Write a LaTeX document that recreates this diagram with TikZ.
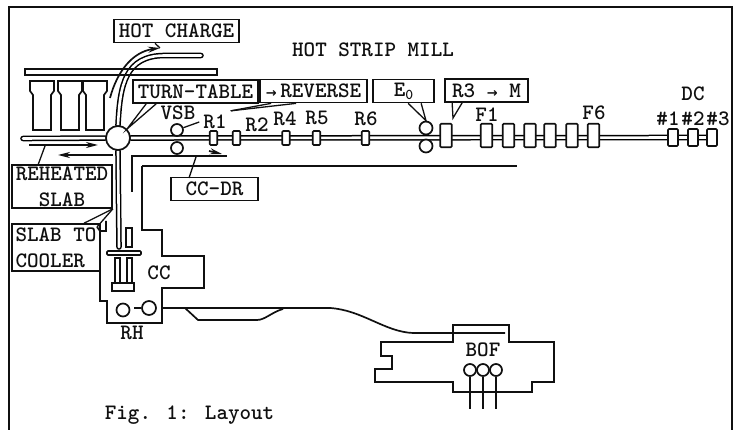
\documentclass[tikz,border=0pt]{standalone}
\usepackage{xcolor}
\usepackage{fontspec}
\usetikzlibrary{positioning,arrows.meta,backgrounds,calc}
\definecolor{ink}{HTML}{101010}
\newfontfamily\arrowfont{DejaVu Sans}
\newcommand{\harrow}{{\arrowfont\bfseries\fontsize{13}{13}\selectfont →}}

\begin{document}
\begin{tikzpicture}[
  x=1pt,y=-1pt,
  font=\ttfamily\bfseries\fontsize{22}{26}\selectfont,
  line width=1.7pt,draw=ink,text=ink,
  box/.style={draw,fill=white,inner sep=0pt,minimum height=23pt,align=center},
  stand/.style={draw,fill=white,rounded corners=1pt,inner sep=0pt},
  roll/.style={draw,fill=white,circle,inner sep=0pt},
  track/.style={double=white,double distance=2.6pt,line width=1.5pt,line cap=round},
  >={Stealth[length=12pt,width=6pt]},edge/.style={->,draw=ink},
  lead/.style={draw=ink,line width=1.3pt}
]
\useasboundingbox (0,0) rectangle (740,430);
\draw (9,430) -- (9,7) -- (732,7) -- (732,430);

% labels
\node[box,minimum width=125pt] (hotcharge) at (176.5,31) {HOT CHARGE};
\node (hsm) at (373,50) {HOT STRIP MILL};
\node[box,minimum width=125pt] (turntable) at (195.5,91.5) {TURN-TABLE};
\node[box,minimum width=107pt] (reverse) at (313.5,91) {\harrow\,REVERSE};
\node[box,minimum width=61pt] (ezero) at (403.5,91) {E\raisebox{-3pt}{\fontsize{15}{15}\selectfont 0}};
\node[box,minimum width=83pt] (rthree) at (486.5,90.5) {R3 \harrow\ M};
\node[box,minimum width=87pt] (ccdr) at (214.5,189) {CC-DR};
\node[box,minimum width=100pt,minimum height=43pt] (reheated) at (62,186.5) {REHEATED\\SLAB};
\node[box,minimum width=88pt,minimum height=47pt,align=left] (cooler) at (56,247.5) {SLAB TO\\COOLER};

% mill line
\node[roll,minimum size=24pt] (tt) at (118,138) {};
\node[roll,minimum size=12pt] (vsbtop) at (177,130) {};
\node[roll,minimum size=12pt] (vsbbot) at (177,148) {};
\node[roll,minimum size=13pt] (etop) at (426,128) {};
\node[roll,minimum size=13pt] (ebot) at (426,146) {};
\foreach \name/\xpos in {r1/213.5,r2/236.5,r4/286,r5/316.5,r6/365.5}
  \node[stand,minimum width=7.5pt,minimum height=14pt] (\name) at (\xpos,138) {};
\foreach \name/\xpos in {r3/446,f1/486.5,f2/508.5,f3/530,f4/550,f5/572,f6/593.5}
  \node[stand,minimum width=11.5pt,minimum height=23.5pt] (\name) at (\xpos,135.5) {};
\foreach \name/\xpos in {dc1/673,dc2/693,dc3/712}
  \node[stand,minimum width=10pt,minimum height=17pt] (\name) at (\xpos,137.5) {};
\coordinate (entry) at (23,138.5);
\coordinate (chargeend) at (201,55.5);
\coordinate (castend) at (119,247);
\begin{scope}[on background layer]
  \draw[track] (entry) -- (tt);
  \draw[track] (tt) -- (dc3);
  \draw[track] (tt.north) .. controls (120,85) and (125,55.5) .. (165,55.5) -- (chargeend);
  \draw[track] (tt.south) -- (castend);
\end{scope}

\node (lvsb) at (178,113) {VSB};
\node (lrone) at (215,122) {R1};
\node (lrtwo) at (257,125) {R2};
\node (lrfour) at (285,119) {R4};
\node (lrfive) at (317,118) {R5};
\node (lrsix) at (366,119) {R6};
\node (lfone) at (487,115) {F1};
\node (lfsix) at (594,113) {F6};
\node (ldc) at (693,94) {DC};
\node (ldcone) at (668,119) {\#1};
\node (ldctwo) at (693,119) {\#2};
\node (ldcthree) at (718,119) {\#3};

% bar and furnaces
\node[draw,minimum width=192pt,minimum height=6pt,inner sep=0pt] (bar) at (121,72) {};
\foreach \xpos in {30,58,83}
  \draw (\xpos,81) -- ++(24,0) -- ++(0,10) -- ++(-3,4) -- ++(0,35) -- ++(-18,0) -- ++(0,-35) -- ++(-3,-4) -- cycle;
\coordinate (chargetip) at (160,48);
\draw[edge] (110,98) .. controls (117,72) and (132,52) .. (chargetip);
\draw[lead] (chargetip) -- (hotcharge.south -| 155,43);

% slab flows
\coordinate (hotin) at (29,145);
\coordinate (hotout) at (98,145);
\coordinate (backin) at (113,155);
\coordinate (backout) at (58,155);
\draw[edge] (hotin) -- (hotout);
\draw[edge] (backin) -- (backout);
\draw (132,192) -- (132,156) -- (227,156);
\draw[->,draw=ink] (209,151) -- (222,154);

% leaders
\draw[lead] ($(turntable.south west)+(14,0)$) -- (tt.north east) -- ($(turntable.south west)+(24,0)$);
\draw[lead] (vsbtop) -- (lrone.west);
\draw[lead] (lrone.north east) -- ($(reverse.south west)+(12,0)$);
\draw[lead] (lrone.north east) -- ($(reverse.south west)+(37,0)$);
\draw[lead] ($(ezero.south west)+(36,0)$) -- (etop.north) -- ($(ezero.south west)+(49,0)$);
\draw[lead] ($(rthree.south west)+(18,0)$) -- (453,118) -- ($(rthree.south west)+(8,0)$);
\draw[lead] (196,157) -- (189,178);
\draw[lead] (45,146) -- (38,165);
\draw[lead] ($(cooler.north west)+(73,0)$) -- (reheated.south east);
\draw[lead] (97,227) -- (reheated.south east);

% CC building
\draw (142,166) -- (517,166);
\draw (142,166) -- (142,230) -- (162,230) -- (162,256) -- (204,256) -- (204,288) -- (162,288)
  -- (162,323) -- (107,323) -- (107,301) -- (100,301) -- (100,271);
\draw (97,227) -- (100,231) -- (106,231) -- (106,221);
\node[draw,inner sep=0pt,minimum width=6pt,minimum height=19pt] (mold) at (129,237.5) {};
\node[draw,rounded corners=1pt,inner sep=0pt,minimum width=34pt,minimum height=4pt] (caster) at (124,253) {};
\node[draw,inner sep=0pt,minimum width=5pt,minimum height=25pt] (strandl) at (117.5,270.5) {};
\node[draw,inner sep=0pt,minimum width=5pt,minimum height=25pt] (strandr) at (129.5,270.5) {};
\node[draw,inner sep=0pt,minimum width=22pt,minimum height=8pt] (base) at (123,287) {};
\node (lcc) at (159,273) {CC};
\node[roll,minimum size=13pt] (rhl) at (123,310) {};
\node[roll,minimum size=14pt] (rhr) at (149,308) {};
\draw[line width=1.3pt] (134,308) -- (rhr);
\node (lrh) at (132,333) {RH};

% transfer line
\coordinate (bofin) at (505,333);
\draw (162,308) -- (330,308) .. controls (362,310) and (385,332) .. (413,333) -- (bofin);
\draw (185,308) -- (198,320) -- (257,320) .. controls (265,320) and (272,312) .. (283,309);

% BOF shop
\draw (453,325) -- (509,325) -- (509,342) -- (554,342) -- (554,382) -- (532,382) -- (532,392)
  -- (453,392) -- (453,382) -- (375,382) -- (375,369) -- (392,369) -- (392,356) -- (381,356)
  -- (381,342) -- (453,342) -- cycle;
\node (lbof) at (483,350) {BOF};
\foreach \name/\xpos in {bofa/470,bofb/483,bofc/496}{
  \node[roll,minimum size=12pt] (\name) at (\xpos,370) {};
  \coordinate (\name end) at (\xpos,409);
  \draw (\name) -- (\name end);
}

\node[anchor=west,inner sep=0pt] (caption) at (104,415) {Fig. 1: Layout};
\end{tikzpicture}
\end{document}
